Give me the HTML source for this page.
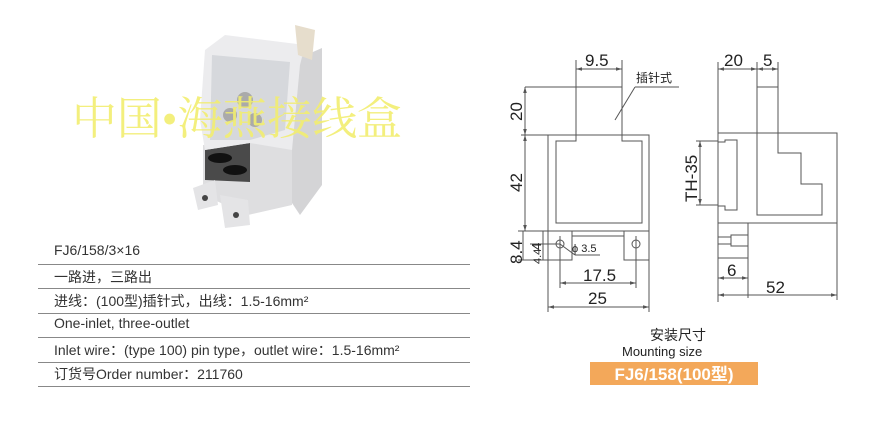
<!DOCTYPE html>
<html><head><meta charset="utf-8"><style>
html,body{margin:0;padding:0;background:#fff;}
body{width:879px;height:422px;overflow:hidden;position:relative;font-family:"Liberation Sans","Noto Sans CJK SC",sans-serif;}
.t{position:absolute;left:54px;font-size:14px;color:#333;white-space:nowrap;}
.l{position:absolute;left:38px;width:432px;height:1px;background:#888;}
</style></head><body>
<svg width="879" height="422" style="position:absolute;left:0;top:0">
<defs><marker id="a" viewBox="0 0 10 10" refX="10" refY="5" markerWidth="6" markerHeight="6" orient="auto-start-reverse"><path d="M0,2 L10,5 L0,8 z" fill="#555"/></marker></defs>
<!-- photo -->
<g>
<polygon points="290,62 322,48 322,185 300,215 290,200" fill="#d4d4d6"/>
<polygon points="203,145 250,140 292,150 292,205 248,215 203,195" fill="#dedee0"/>
<polygon points="205,150 250,143 250,182 205,180" fill="#4a4a4a"/>
<ellipse cx="220" cy="158" rx="12" ry="5" fill="#111"/>
<ellipse cx="235" cy="170" rx="12" ry="5" fill="#111"/>
<polygon points="193,188 215,180 218,205 198,210" fill="#e4e4e6"/>
<polygon points="220,195 248,200 250,225 225,228" fill="#e4e4e6"/>
<circle cx="205" cy="198" r="3" fill="#444"/><circle cx="236" cy="215" r="3" fill="#444"/>
<polygon points="205,50 225,35 305,45 300,65 292,150 250,143 205,150 200,120" fill="#ececee"/>
<polygon points="212,55 290,62 285,130 250,140 210,140" fill="#d6d8dc"/>
<polygon points="295,25 315,30 312,60 298,55" fill="#e6ddcc"/>
<circle cx="245" cy="100" r="8" fill="#aaa"/><circle cx="230" cy="115" r="7" fill="#aaa"/><circle cx="255" cy="120" r="7" fill="#aaa"/>
</g>
<text x="72" y="134" font-size="45" fill="#f2ee70" font-family="Liberation Serif,'Noto Serif CJK SC',serif" opacity="0.9" textLength="330" lengthAdjust="spacingAndGlyphs">中国•海燕接线盒</text>
<g stroke="#555" stroke-width="1" fill="none">
<rect x="548" y="135" width="101" height="96"/>
<polyline points="576,60 576,141 556,141 556,223 642,223 642,141 622,141 622,60"/>
<line x1="525" y1="87" x2="622" y2="87"/>
<line x1="576" y1="69" x2="622" y2="69" marker-start="url(#a)" marker-end="url(#a)"/>
<line x1="635" y1="87" x2="679" y2="87"/><line x1="635" y1="87" x2="615" y2="120"/>
<line x1="525" y1="87" x2="525" y2="135" marker-start="url(#a)" marker-end="url(#a)"/>
<line x1="525" y1="135" x2="525" y2="231" marker-start="url(#a)" marker-end="url(#a)"/>
<line x1="521" y1="135" x2="548" y2="135"/>
<rect x="548" y="231" width="24" height="29"/><rect x="624" y="231" width="25" height="29"/>
<line x1="572" y1="236" x2="624" y2="236"/>
<circle cx="560" cy="244" r="4"/><circle cx="636" cy="244" r="4"/>
<line x1="560" y1="236" x2="560" y2="288"/><line x1="636" y1="236" x2="636" y2="288"/>
<line x1="548" y1="231" x2="548" y2="312"/><line x1="649" y1="231" x2="649" y2="312"/>
<line x1="560" y1="283" x2="636" y2="283" marker-start="url(#a)" marker-end="url(#a)"/>
<line x1="548" y1="307" x2="649" y2="307" marker-start="url(#a)" marker-end="url(#a)"/>
<line x1="518" y1="231" x2="548" y2="231"/><line x1="518" y1="260" x2="548" y2="260"/>
<line x1="523" y1="231" x2="523" y2="260"/><line x1="543" y1="231" x2="543" y2="260"/>
<line x1="530" y1="244" x2="560" y2="244"/>
<line x1="560" y1="244" x2="575" y2="255"/><line x1="575" y1="255" x2="600" y2="255"/>
<line x1="718" y1="62" x2="718" y2="302"/>
<rect x="718" y="133" width="119" height="90"/>
<polygon points="757,87 778,87 778,153 801,153 801,184 822,184 822,215 757,215"/>
<line x1="757" y1="62" x2="757" y2="87"/><line x1="778" y1="62" x2="778" y2="87"/>
<line x1="718" y1="69" x2="757" y2="69" marker-start="url(#a)" marker-end="url(#a)"/>
<line x1="757" y1="69" x2="778" y2="69" marker-start="url(#a)" marker-end="url(#a)"/>
<polyline points="718,142 725,142 725,140 737,140 737,210 725,210 725,206 718,206"/>
<line x1="700" y1="141" x2="700" y2="205" marker-start="url(#a)" marker-end="url(#a)"/>
<line x1="696" y1="141" x2="718" y2="141"/><line x1="696" y1="205" x2="718" y2="205"/>
<polyline points="718,223 748,223 748,298"/>
<line x1="718" y1="258" x2="748" y2="258"/>
<rect x="718" y="237" width="13" height="7"/><rect x="731" y="235" width="17" height="11"/>
<line x1="718" y1="278" x2="748" y2="278" marker-start="url(#a)" marker-end="url(#a)"/>
<line x1="837" y1="223" x2="837" y2="300"/>
<line x1="718" y1="295" x2="837" y2="295" marker-start="url(#a)" marker-end="url(#a)"/>
</g>
<g fill="#222" font-size="17" font-family="Liberation Sans,sans-serif">
<text x="585" y="66">9.5</text>
<text x="724" y="66">20</text><text x="763" y="66">5</text>
<text x="583" y="281">17.5</text><text x="588" y="304">25</text>
<text x="727" y="276">6</text><text x="766" y="293">52</text>
<text transform="translate(522,121) rotate(-90)">20</text>
<text transform="translate(522,192) rotate(-90)">42</text>
<text transform="translate(522,264) rotate(-90)">8.4</text>
<text transform="translate(541,250) rotate(-90)" font-size="13">4</text>
<text transform="translate(541,264) rotate(-90)" font-size="11">4.4</text>
<text transform="translate(697,202) rotate(-90)">TH-35</text>
<text x="572" y="252" font-size="11">ϕ 3.5</text>
<text x="636" y="82" font-size="12" font-family="Liberation Sans,'Noto Sans CJK SC',sans-serif">插针式</text>
<text x="650" y="340" font-size="14" font-family="Liberation Sans,'Noto Sans CJK SC',sans-serif">安装尺寸</text>
<text x="622" y="356" font-size="13">Mounting size</text>
</g>
<rect x="590" y="362" width="168" height="23" fill="#f3a85a"/>
<text x="674" y="380" text-anchor="middle" fill="#fff" font-weight="bold" font-size="17" font-family="Liberation Sans,'Noto Sans CJK SC',sans-serif">FJ6/158(100型)</text>
</svg>
<div class="t" style="top:242px">FJ6/158/3×16</div>
<div class="l" style="top:264px"></div>
<div class="t" style="top:267px">一路进，三路出</div>
<div class="l" style="top:288px"></div>
<div class="t" style="top:291px">进线：(100型)插针式，出线：1.5-16mm²</div>
<div class="l" style="top:313px"></div>
<div class="t" style="top:315px">One-inlet, three-outlet</div>
<div class="l" style="top:337px"></div>
<div class="t" style="top:340px">Inlet wire：(type 100) pin type，outlet wire：1.5-16mm²</div>
<div class="l" style="top:362px"></div>
<div class="t" style="top:364px">订货号Order number：211760</div>
<div class="l" style="top:386px"></div>
</body></html>
